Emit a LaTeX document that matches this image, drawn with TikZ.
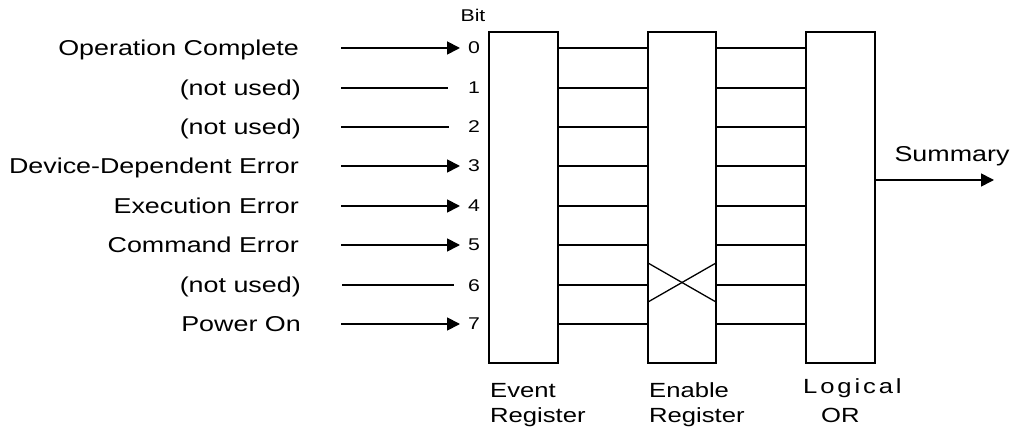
\documentclass[tikz,border=0pt]{standalone}
\usepackage{fontspec}
\setmainfont{Liberation Sans}[FakeStretch=1.25]
\newfontfamily\spacedfont{Liberation Sans}[FakeStretch=1.25,LetterSpace=14]
\usetikzlibrary{arrows.meta}
\begin{document}
\begin{tikzpicture}[x=1pt,y=-1pt,
  reg/.style={draw,line width=1.3pt,minimum height=331pt,inner sep=0pt,outer sep=0pt},
  wire/.style={line width=1.3pt},
  feed/.style={line width=1.8pt},
  feedarrow/.style={feed,-{Triangle[length=13pt,width=13pt]}},
  inlabel/.style={anchor=base east,inner sep=0pt,font=\fontsize{21.5}{25}\selectfont},
  bitnum/.style={anchor=base,inner sep=0pt,font=\fontsize{17}{20}\selectfont},
  reglabel/.style={anchor=base west,inner sep=0pt,align=left,font=\fontsize{20.5}{25}\selectfont}]
\useasboundingbox (0,0) rectangle (1019,427);

% registers
\node[reg,minimum width=69pt] (ev) at (523.5,197.5) {};
\node[reg,minimum width=68pt] (en) at (682,197.5) {};
\node[reg,minimum width=69pt] (or) at (840.5,197.5) {};

% bit rows
\foreach \i/\y in {0/48,1/88,2/127,3/166,4/206,5/245,6/285,7/324}{
  \coordinate (r\i) at (0,\y);
  \node[bitnum] (b\i) at (474,\y+6) {\i};
}
\node[bitnum] (bit) at (473,22) {Bit};

% inputs
\node[inlabel] (l0) at (299,48+7.5) {Operation Complete};
\node[inlabel] (l1) at (301,88+7.5) {(not used)};
\node[inlabel] (l2) at (301,127+7.5) {(not used)};
\node[inlabel] (l3) at (299,166+7.5) {Device-Dependent Error};
\node[inlabel] (l4) at (299,206+7.5) {Execution Error};
\node[inlabel] (l5) at (299,245+7.5) {Command Error};
\node[inlabel] (l6) at (301,285+7.5) {(not used)};
\node[inlabel] (l7) at (301,324+7.5) {Power On};

\foreach \i in {0,3,4,5,7}{
  \coordinate (s\i) at (341,0 |- r\i);
  \coordinate (t\i) at (460,0 |- r\i);
  \draw[feedarrow] (s\i) -- (t\i);
}
\foreach \i/\a/\b in {1/341/448,2/341/449,6/342/454}{
  \coordinate (s\i) at (\a,0 |- r\i);
  \coordinate (t\i) at (\b,0 |- r\i);
  \draw[feed] (s\i) -- (t\i);
}

% event -> enable
\foreach \i in {0,...,7}{
  \draw[wire] (ev.east |- r\i) -- (en.west |- r\i);
}
% enable -> logical OR (bits 6 and 7 swapped)
\foreach \i in {0,...,5,7}{
  \draw[wire] (en.east |- r\i) -- (or.west |- r\i);
}
\coordinate (xa) at (0,263);
\coordinate (xb) at (0,302);
\draw[wire] (en.west |- xa) -- (en.east |- xb);
\draw[wire] (en.west |- xb) -- (en.east |- xa);
\draw[wire] (en.east |- r6) -- (or.west |- r6);

% summary output
\coordinate (sumy) at (0,180);
\coordinate (sumend) at (994,180);
\draw[feedarrow,line width=1.6pt] (or.east |- sumy) -- (sumend);
\node[anchor=base,inner sep=0pt,font=\fontsize{21.5}{25}\selectfont] (sum) at (952,162) {Summary};

% register captions
\node[reglabel] (evl) at (490,422) {Event\\Register};
\node[reglabel] (enl) at (649,422) {Enable\\Register};
\node[anchor=base west,inner sep=0pt,font=\fontsize{20.5}{25}\spacedfont] (orl1) at (803,393) {Logical};
\node[anchor=base west,inner sep=0pt,font=\fontsize{20.5}{25}\selectfont] (orl2) at (821,422) {OR};
\end{tikzpicture}
\end{document}
